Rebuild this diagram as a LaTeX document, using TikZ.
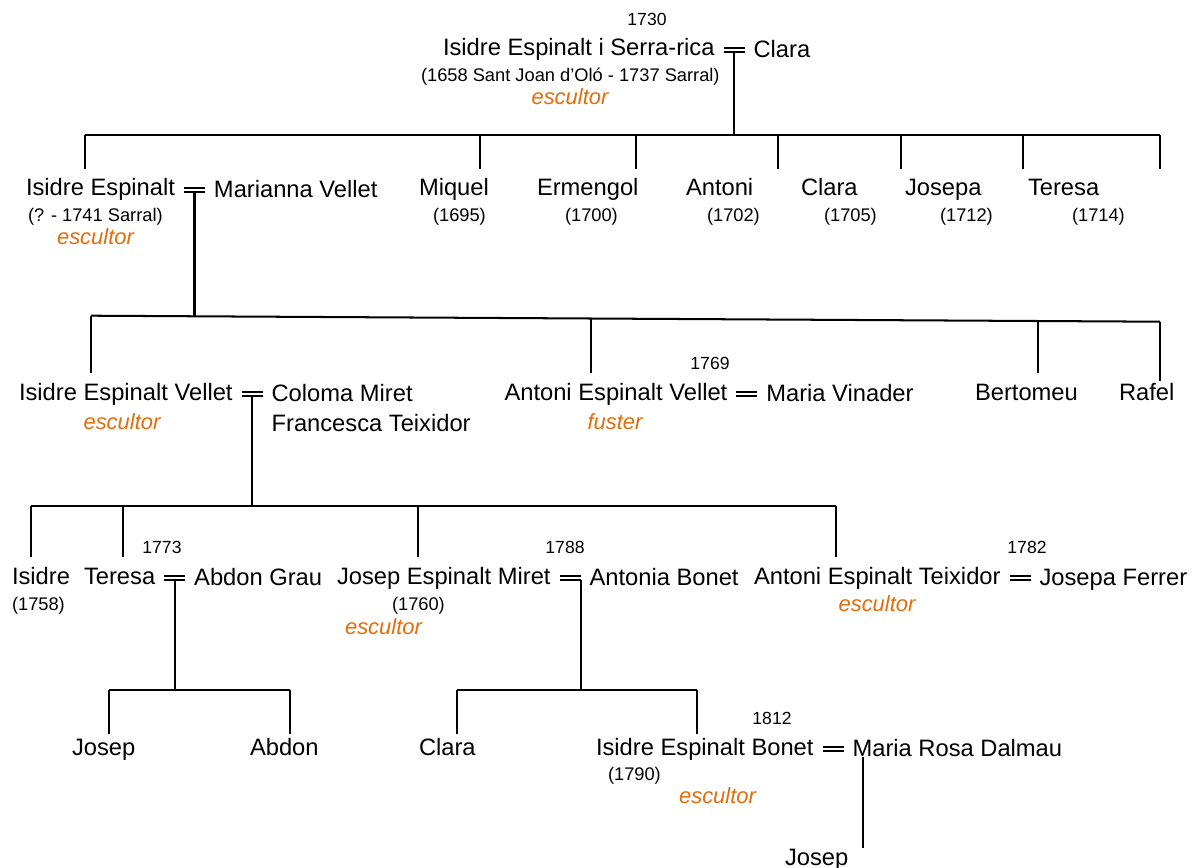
\documentclass[tikz,border=0pt]{standalone}
\usepackage{fontspec}
\setmainfont{Liberation Sans}
\usepackage{xcolor}
\usepackage{tikz}
\usetikzlibrary{positioning}

\definecolor{jobcolor}{RGB}{228,108,10}

\begin{document}
\begin{tikzpicture}[
    x=0.02cm, y=-0.02cm,
    line width=1.15pt,
    node distance=0.37cm,
    namenode/.style={anchor=base west,inner xsep=0pt,inner ysep=4.7pt,text height=10.1pt,text depth=3.4pt,font=\fontsize{13.5}{16}\selectfont},
    datenode/.style={anchor=base west,inner sep=0pt,font=\fontsize{10.4}{12}\selectfont},
    yearnode/.style={anchor=base,inner sep=0pt,font=\fontsize{10}{12}\selectfont},
    jobnode/.style={anchor=base,inner sep=0pt,text=jobcolor,font=\fontsize{12.5}{15}\selectfont\itshape},
    wed/.style={coordinate}
    ]

    \useasboundingbox (0,0) rectangle (1193,868);

    % generation 0
    \node[yearnode] (y1730) at (647,26) {1730};
    \node[namenode] (isidre0) at (442,56) {Isidre Espinalt i Serra-rica};
    \node[wed, right=of isidre0.mid east] (w0) {};
    \node[namenode, right=of w0] (clara0) {Clara};
    \node[datenode] (d-isidre0) at (420,81.5) {(1658 Sant Joan d'Oló - 1737 Sarral)};
    \node[jobnode] (j-isidre0) at (570,105) {escultor};

    % generation 1
    \node[namenode] (isidre1) at (25,196) {Isidre Espinalt};
    \node[wed, right=of isidre1.mid east] (w1) {};
    \node[namenode, right=of w1] (marianna) {Marianna Vellet};
    \node[datenode] (d-isidre1) at (27,222) {(? - 1741 Sarral)};
    \node[jobnode] (j-isidre1) at (95.5,245) {escultor};

    \node[namenode] (miquel) at (418,196) {Miquel};
    \node[datenode] (d-miquel) at (432,222) {(1695)};
    \node[namenode] (ermengol) at (536,196) {Ermengol};
    \node[datenode] (d-ermengol) at (564,222) {(1700)};
    \node[namenode] (antoni1) at (685,196) {Antoni};
    \node[datenode] (d-antoni1) at (706,222) {(1702)};
    \node[namenode] (clara1) at (800,196) {Clara};
    \node[datenode] (d-clara1) at (823,222) {(1705)};
    \node[namenode] (josepa) at (904,196) {Josepa};
    \node[datenode] (d-josepa) at (939,222) {(1712)};
    \node[namenode] (teresa1) at (1027,196) {Teresa};
    \node[datenode] (d-teresa1) at (1071,222) {(1714)};

    % generation 2
    \node[namenode] (isidre2) at (18,400) {Isidre Espinalt Vellet};
    \node[wed, right=of isidre2.mid east] (w2) {};
    \node[namenode, right=of w2] (coloma) {Coloma Miret};
    \node[namenode] (francesca) at ([yshift=-0.6cm]coloma.base west) {Francesca Teixidor};
    \node[jobnode] (j-isidre2) at (122,429) {escultor};

    \node[yearnode] (y1769) at (710,369) {1769};
    \node[namenode] (antoni2) at (503.5,400) {Antoni Espinalt Vellet};
    \node[wed, right=of antoni2.mid east] (w3) {};
    \node[namenode, right=of w3] (vinader) {Maria Vinader};
    \node[jobnode] (j-antoni2) at (615,429) {fuster};

    \node[namenode] (bertomeu) at (974,400) {Bertomeu};
    \node[namenode] (rafel) at (1118,400) {Rafel};

    % generation 3
    \node[namenode] (isidre3) at (11,584) {Isidre};
    \node[datenode] (d-isidre3) at (11,610.5) {(1758)};

    \node[yearnode] (y1773) at (162,553) {1773};
    \node[namenode] (teresa3) at (83,584) {Teresa};
    \node[wed, right=of teresa3.mid east] (w4) {};
    \node[namenode, right=of w4] (abdon3) {Abdon Grau};

    \node[yearnode] (y1788) at (565,553) {1788};
    \node[namenode] (josep3) at (336,584) {Josep Espinalt Miret};
    \node[wed, right=of josep3.mid east] (w5) {};
    \node[namenode, right=of w5] (antonia) {Antonia Bonet};
    \node[datenode] (d-josep3) at (391,610.5) {(1760)};
    \node[jobnode] (j-josep3) at (383.5,634) {escultor};

    \node[yearnode] (y1782) at (1027,553) {1782};
    \node[namenode] (antoni3) at (753,584) {Antoni Espinalt Teixidor};
    \node[wed, right=of antoni3.mid east] (w6) {};
    \node[namenode, right=of w6] (ferrer) {Josepa Ferrer};
    \node[jobnode] (j-antoni3) at (877,611) {escultor};

    % generation 4
    \node[namenode] (josep4) at (71,755) {Josep};
    \node[namenode] (abdon4) at (249,755) {Abdon};
    \node[namenode] (clara4) at (418,755) {Clara};

    \node[yearnode] (y1812) at (772,724) {1812};
    \node[namenode] (isidre4) at (595,755) {Isidre Espinalt Bonet};
    \node[wed, right=of isidre4.mid east] (w7) {};
    \node[namenode, right=of w7] (dalmau) {Maria Rosa Dalmau};
    \node[datenode] (d-isidre4) at (607,780.5) {(1790)};
    \node[jobnode] (j-isidre4) at (717.5,803) {escultor};

    % generation 5
    \node[namenode] (josep5) at (784,865) {Josep};
    \coordinate (m7) at (863,757);

    % marriage signs
    \foreach \w in {w0,w1,w2,w3,w4,w5,w6,w7}
        \draw ([shift={(-10.5,-3.5)}]\w) -- ([shift={(10.5,-3.5)}]\w)
              ([shift={(-10.5,0.9)}]\w) -- ([shift={(10.5,0.9)}]\w);

    % sibling bars
    \coordinate (t-isidre1) at (85,135);
    \coordinate (t-miquel) at (480,135);
    \coordinate (t-ermengol) at (636,135);
    \coordinate (t-antoni1) at (778,135);
    \coordinate (t-clara1) at (901,135);
    \coordinate (t-josepa) at (1023,135);
    \coordinate (t-teresa1) at (1160,135);

    \coordinate (t-isidre2) at (91,315.7);
    \coordinate (t-antoni2) at (591,318.5);
    \coordinate (t-bertomeu) at (1038,321);
    \coordinate (t-rafel) at (1160,321.7);

    \coordinate (t-isidre3) at (31,506);
    \coordinate (t-teresa3) at (123,506);
    \coordinate (t-josep3) at (418,506);
    \coordinate (t-antoni3) at (836,506);

    \coordinate (t-josep4) at (109,690);
    \coordinate (t-abdon4) at (290,690);
    \coordinate (t-clara4) at (457,690);
    \coordinate (t-isidre4) at (697,690);

    \path (t-isidre1) edge (t-teresa1)
          (t-isidre2) edge (t-rafel)
          (t-isidre3) edge (t-antoni3)
          (t-josep4) edge (t-abdon4)
          (t-clara4) edge (t-isidre4)

          ([shift={(0,0.9)}]w0) edge (w0 |- t-isidre1)
          ([shift={(0,0.9)}]w1) edge (w1 |- t-isidre2)
          ([shift={(0,0.9)}]w2) edge (w2 |- t-isidre3)
          ([shift={(0,0.9)}]w4) edge (w4 |- t-josep4)
          ([shift={(10.5,0.9)}]w5) edge ([shift={(10.5,0)}]w5 |- t-clara4)
          (m7) edge[shorten >=-0.2cm] (m7 |- josep5.north)
          ;

    \foreach \t/\n in {isidre1/isidre1, miquel/miquel, ermengol/ermengol, antoni1/antoni1,
                       clara1/clara1, josepa/josepa, teresa1/teresa1,
                       isidre2/isidre2, antoni2/antoni2, bertomeu/bertomeu,
                       isidre3/isidre3, teresa3/teresa3, josep3/josep3, antoni3/antoni3}
        \draw (t-\t) -- (t-\t |- \n.north);

    \path (t-rafel) edge[shorten >=-0.16cm] (t-rafel |- rafel.north)
          (t-josep4) edge[shorten >=-0.12cm] (t-josep4 |- josep4.north)
          (t-abdon4) edge[shorten >=-0.12cm] (t-abdon4 |- abdon4.north)
          (t-clara4) edge[shorten >=-0.12cm] (t-clara4 |- clara4.north)
          (t-isidre4) edge[shorten >=-0.12cm] (t-isidre4 |- isidre4.north)
          ;
  \end{tikzpicture}
\end{document}
